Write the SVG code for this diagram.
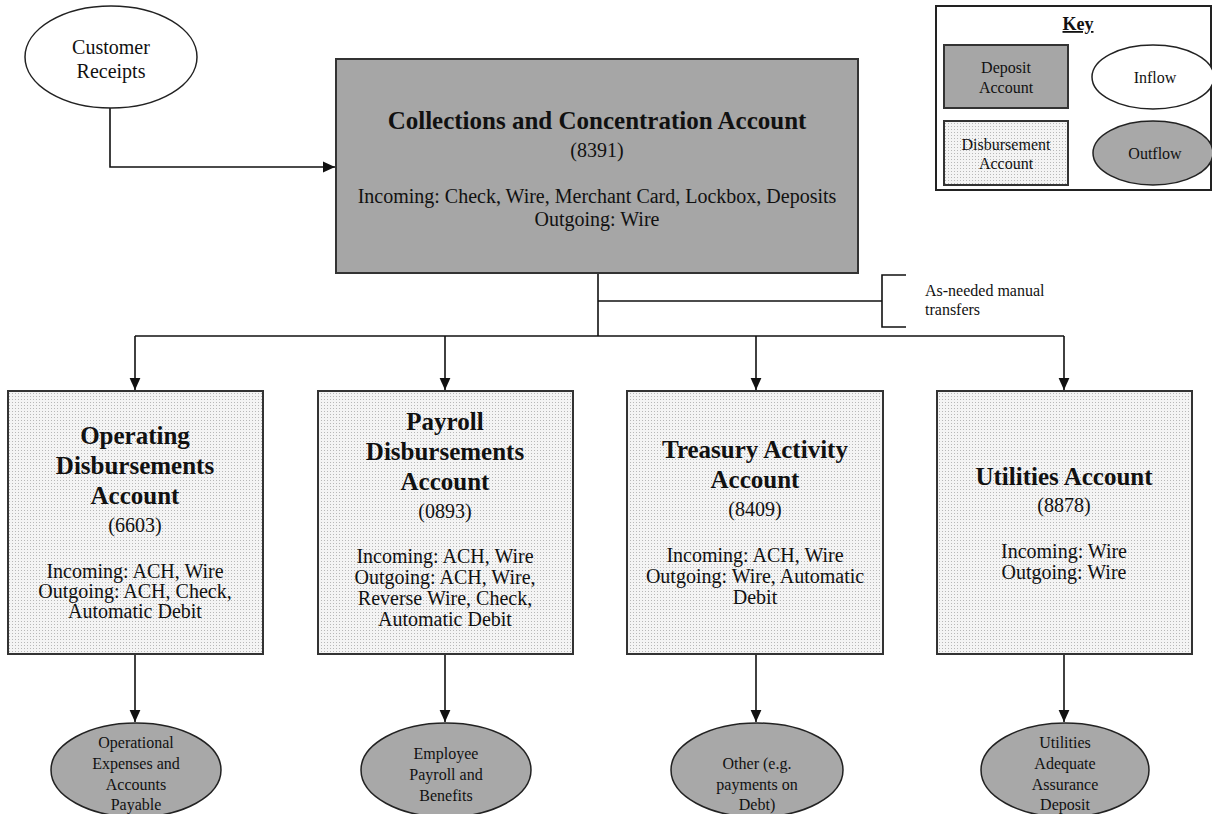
<svg xmlns="http://www.w3.org/2000/svg" width="1212" height="814" viewBox="0 0 1212 814">
<defs>
<pattern id="dots" width="3" height="3" patternUnits="userSpaceOnUse">
<rect width="3" height="3" fill="#f4f4f4"/>
<rect x="0" y="0" width="1" height="1" fill="#b8b8b8"/>
</pattern>
<marker id="ahs" viewBox="0 0 10 10" refX="10" refY="5" markerWidth="12" markerHeight="12" markerUnits="userSpaceOnUse" orient="auto">
<path d="M0,0.5 L10,5 L0,9.5 Z" fill="#111"/>
</marker>
</defs>
<style>
text{font-family:"Liberation Serif","Times New Roman",serif;fill:#111;text-anchor:middle}
.t{font-size:25px;font-weight:bold}
.r{font-size:20px}
.s{font-size:16px}
.k{font-size:16px}
.dep{fill:#a6a6a6;stroke:#333;stroke-width:2}
.dis{fill:url(#dots);stroke:#333;stroke-width:2}
.in{fill:#fff;stroke:#222;stroke-width:1.5}
.out{fill:#a8a8a8;stroke:#222;stroke-width:1.5}
.ln{fill:none;stroke:#111;stroke-width:1.6}
</style>
<rect width="1212" height="814" fill="#fff"/>

<g id="connectors">
<path class="ln" d="M110,108 V167 H335" marker-end="url(#ahs)"/>
<path class="ln" d="M598,273 V336"/>
<path class="ln" d="M598,301 H882"/>
<path class="ln" d="M906,275 H882 V327 H906"/>
<path class="ln" d="M135,336 H1064"/>
<path class="ln" d="M135,336 V390" marker-end="url(#ahs)"/>
<path class="ln" d="M445,336 V390" marker-end="url(#ahs)"/>
<path class="ln" d="M756,336 V390" marker-end="url(#ahs)"/>
<path class="ln" d="M1064,336 V390" marker-end="url(#ahs)"/>
<path class="ln" d="M135,654 V722" marker-end="url(#ahs)"/>
<path class="ln" d="M445,654 V722" marker-end="url(#ahs)"/>
<path class="ln" d="M756,654 V722" marker-end="url(#ahs)"/>
<path class="ln" d="M1064,654 V722" marker-end="url(#ahs)"/>
</g>

<g id="customer-receipts">
<ellipse class="in" cx="111" cy="57" rx="86" ry="51"/>
<text class="r" x="111" y="54">Customer</text>
<text class="r" x="111" y="78">Receipts</text>
</g>

<g id="collections">
<rect class="dep" x="336" y="59" width="522" height="214"/>
<text class="t" x="597" y="129">Collections and Concentration Account</text>
<text class="r" x="597" y="157">(8391)</text>
<text class="r" x="597" y="203">Incoming: Check, Wire, Merchant Card, Lockbox, Deposits</text>
<text class="r" x="597" y="226">Outgoing: Wire</text>
</g>

<g id="transfers-note">
<text class="k" x="925" y="296" style="text-anchor:start">As-needed manual</text>
<text class="k" x="925" y="315" style="text-anchor:start">transfers</text>
</g>

<g id="key">
<rect x="936" y="6" width="275" height="184" fill="#fff" stroke="#222" stroke-width="2"/>
<text x="1078" y="30" style="font-size:18px;font-weight:bold;text-decoration:underline">Key</text>
<rect class="dep" x="944" y="45" width="124" height="63"/>
<text class="k" x="1006" y="73">Deposit</text>
<text class="k" x="1006" y="93">Account</text>
<ellipse class="in" cx="1153" cy="77" rx="61" ry="32"/>
<text class="k" x="1155" y="83">Inflow</text>
<rect class="dis" x="944" y="121" width="124" height="64"/>
<text class="k" x="1006" y="150">Disbursement</text>
<text class="k" x="1006" y="169">Account</text>
<ellipse class="out" cx="1153" cy="153" rx="60" ry="32"/>
<text class="k" x="1155" y="159">Outflow</text>
</g>

<g id="operating">
<rect class="dis" x="8" y="391" width="255" height="263"/>
<text class="t" x="135" y="444">Operating</text>
<text class="t" x="135" y="474">Disbursements</text>
<text class="t" x="135" y="504">Account</text>
<text class="r" x="135" y="532">(6603)</text>
<text class="r" x="135" y="578">Incoming: ACH, Wire</text>
<text class="r" x="135" y="598">Outgoing: ACH, Check,</text>
<text class="r" x="135" y="618">Automatic Debit</text>
</g>

<g id="payroll">
<rect class="dis" x="318" y="391" width="255" height="263"/>
<text class="t" x="445" y="430">Payroll</text>
<text class="t" x="445" y="460">Disbursements</text>
<text class="t" x="445" y="490">Account</text>
<text class="r" x="445" y="518">(0893)</text>
<text class="r" x="445" y="563">Incoming: ACH, Wire</text>
<text class="r" x="445" y="584">Outgoing: ACH, Wire,</text>
<text class="r" x="445" y="605">Reverse Wire, Check,</text>
<text class="r" x="445" y="626">Automatic Debit</text>
</g>

<g id="treasury">
<rect class="dis" x="627" y="391" width="256" height="263"/>
<text class="t" x="755" y="458">Treasury Activity</text>
<text class="t" x="755" y="488">Account</text>
<text class="r" x="755" y="516">(8409)</text>
<text class="r" x="755" y="562">Incoming: ACH, Wire</text>
<text class="r" x="755" y="583">Outgoing: Wire, Automatic</text>
<text class="r" x="755" y="604">Debit</text>
</g>

<g id="utilities">
<rect class="dis" x="937" y="391" width="255" height="263"/>
<text class="t" x="1064" y="485">Utilities Account</text>
<text class="r" x="1064" y="512">(8878)</text>
<text class="r" x="1064" y="558">Incoming: Wire</text>
<text class="r" x="1064" y="579">Outgoing: Wire</text>
</g>

<g id="out-operational">
<ellipse class="out" cx="136" cy="770" rx="85" ry="47"/>
<text class="s" x="136" y="748">Operational</text>
<text class="s" x="136" y="769">Expenses and</text>
<text class="s" x="136" y="790">Accounts</text>
<text class="s" x="136" y="810">Payable</text>
</g>

<g id="out-payroll">
<ellipse class="out" cx="446" cy="770" rx="85" ry="47"/>
<text class="s" x="446" y="759">Employee</text>
<text class="s" x="446" y="780">Payroll and</text>
<text class="s" x="446" y="801">Benefits</text>
</g>

<g id="out-other">
<ellipse class="out" cx="757" cy="770" rx="86" ry="47"/>
<text class="s" x="757" y="769">Other (e.g.</text>
<text class="s" x="757" y="790">payments on</text>
<text class="s" x="757" y="810">Debt)</text>
</g>

<g id="out-utilities">
<ellipse class="out" cx="1065" cy="770" rx="84" ry="47"/>
<text class="s" x="1065" y="748">Utilities</text>
<text class="s" x="1065" y="769">Adequate</text>
<text class="s" x="1065" y="790">Assurance</text>
<text class="s" x="1065" y="810">Deposit</text>
</g>
</svg>
